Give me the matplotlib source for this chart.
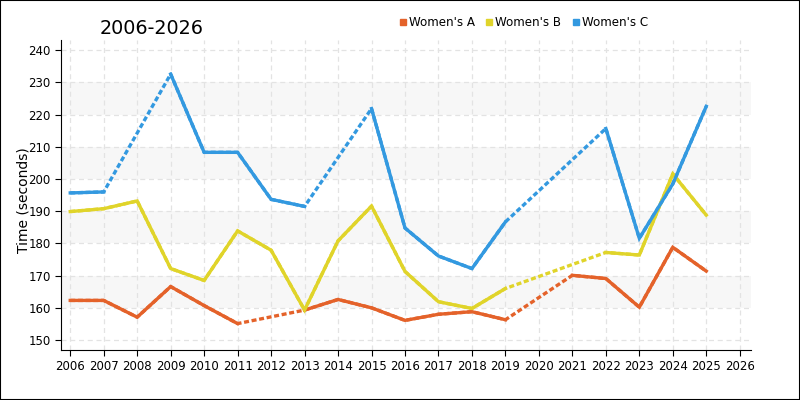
import numpy as np
import matplotlib
matplotlib.use("Agg")
import matplotlib.pyplot as plt
from matplotlib.lines import Line2D

years = list(range(2006, 2026))
# None = no result that year (drawn as dashed bridge)
womens_a = [162.3, 162.3, 157.1, 166.6, 160.7, 155.1, None, 159.3, 162.6, 160.0,
            156.1, 158.0, 158.8, 156.3, None, 170.1, 169.1, 160.2, 178.8, 171.4]
womens_b = [189.9, 190.8, 193.2, 172.2, 168.5, 183.9, 177.9, 159.3, 180.8, 191.6,
            171.3, 161.9, 159.8, 166.0, None, None, 177.2, 176.4, 201.6, 188.8]
womens_c = [195.7, 196.0, None, 232.6, 208.3, 208.3, 193.7, 191.5, None, 221.9,
            184.8, 176.1, 172.2, 186.7, None, None, 215.7, 181.6, 198.5, 222.6]
series_names = ["Women's A", "Women's B", "Women's C"]
colors = ["#e4622a", "#e0d42a", "#3399e0"]

fig = plt.figure(figsize=(8, 4), dpi=100)
ax = fig.add_axes([0.0765, 0.125, 0.862, 0.775])

for lo in [160, 180, 200, 220]:
    ax.axhspan(lo, lo + 10, color="#f7f7f7", zorder=0, lw=0)


def draw(vals, color):
    x = np.array(years, dtype=float)
    y = np.array([np.nan if v is None else v for v in vals])
    ok = ~np.isnan(y)
    # dashed line through known points only (bridges gaps)
    ax.plot(x[ok], y[ok], color=color, lw=2.4, ls=(0, (1.5, 0.8)),
            solid_capstyle="butt", zorder=3)
    # solid on consecutive years
    ax.plot(x, y, color=color, lw=2.4, zorder=4, solid_joinstyle="miter")


for vals, c in zip([womens_a, womens_b, womens_c], colors):
    draw(vals, c)

ax.set_xlim(2005.73, 2026.33)
ax.set_ylim(146.9, 243.2)
ax.set_xticks(range(2006, 2027))
ax.set_yticks(range(150, 241, 10))
ax.tick_params(labelsize=8.5, length=4, color="black")
ax.grid(True, color="#e3e3e3", ls=(0, (4, 3)), lw=0.9)
ax.set_axisbelow(True)
for s in ["top", "right"]:
    ax.spines[s].set_visible(False)
ax.set_ylabel("Time (seconds)", fontsize=10)
ax.yaxis.set_label_coords(-0.045, 0.485)

fig.text(0.125, 0.93, "2006-2026", fontsize=13.8, ha="left", va="center")

handles = [Line2D([], [], marker="s", color="none", markerfacecolor=c,
                  markeredgecolor=c, markersize=5) for c in colors]
fig.legend(handles, series_names, loc="center left", bbox_to_anchor=(0.483, 0.943),
           ncol=3, frameon=False, fontsize=8.6, handletextpad=0.0,
           columnspacing=0.7, handlelength=1.0)

fig.patches.append(plt.Rectangle((0, 0), 1, 1, transform=fig.transFigure,
                                 fill=False, ec="black", lw=1.5))
fig.savefig("out.png", dpi=100)
